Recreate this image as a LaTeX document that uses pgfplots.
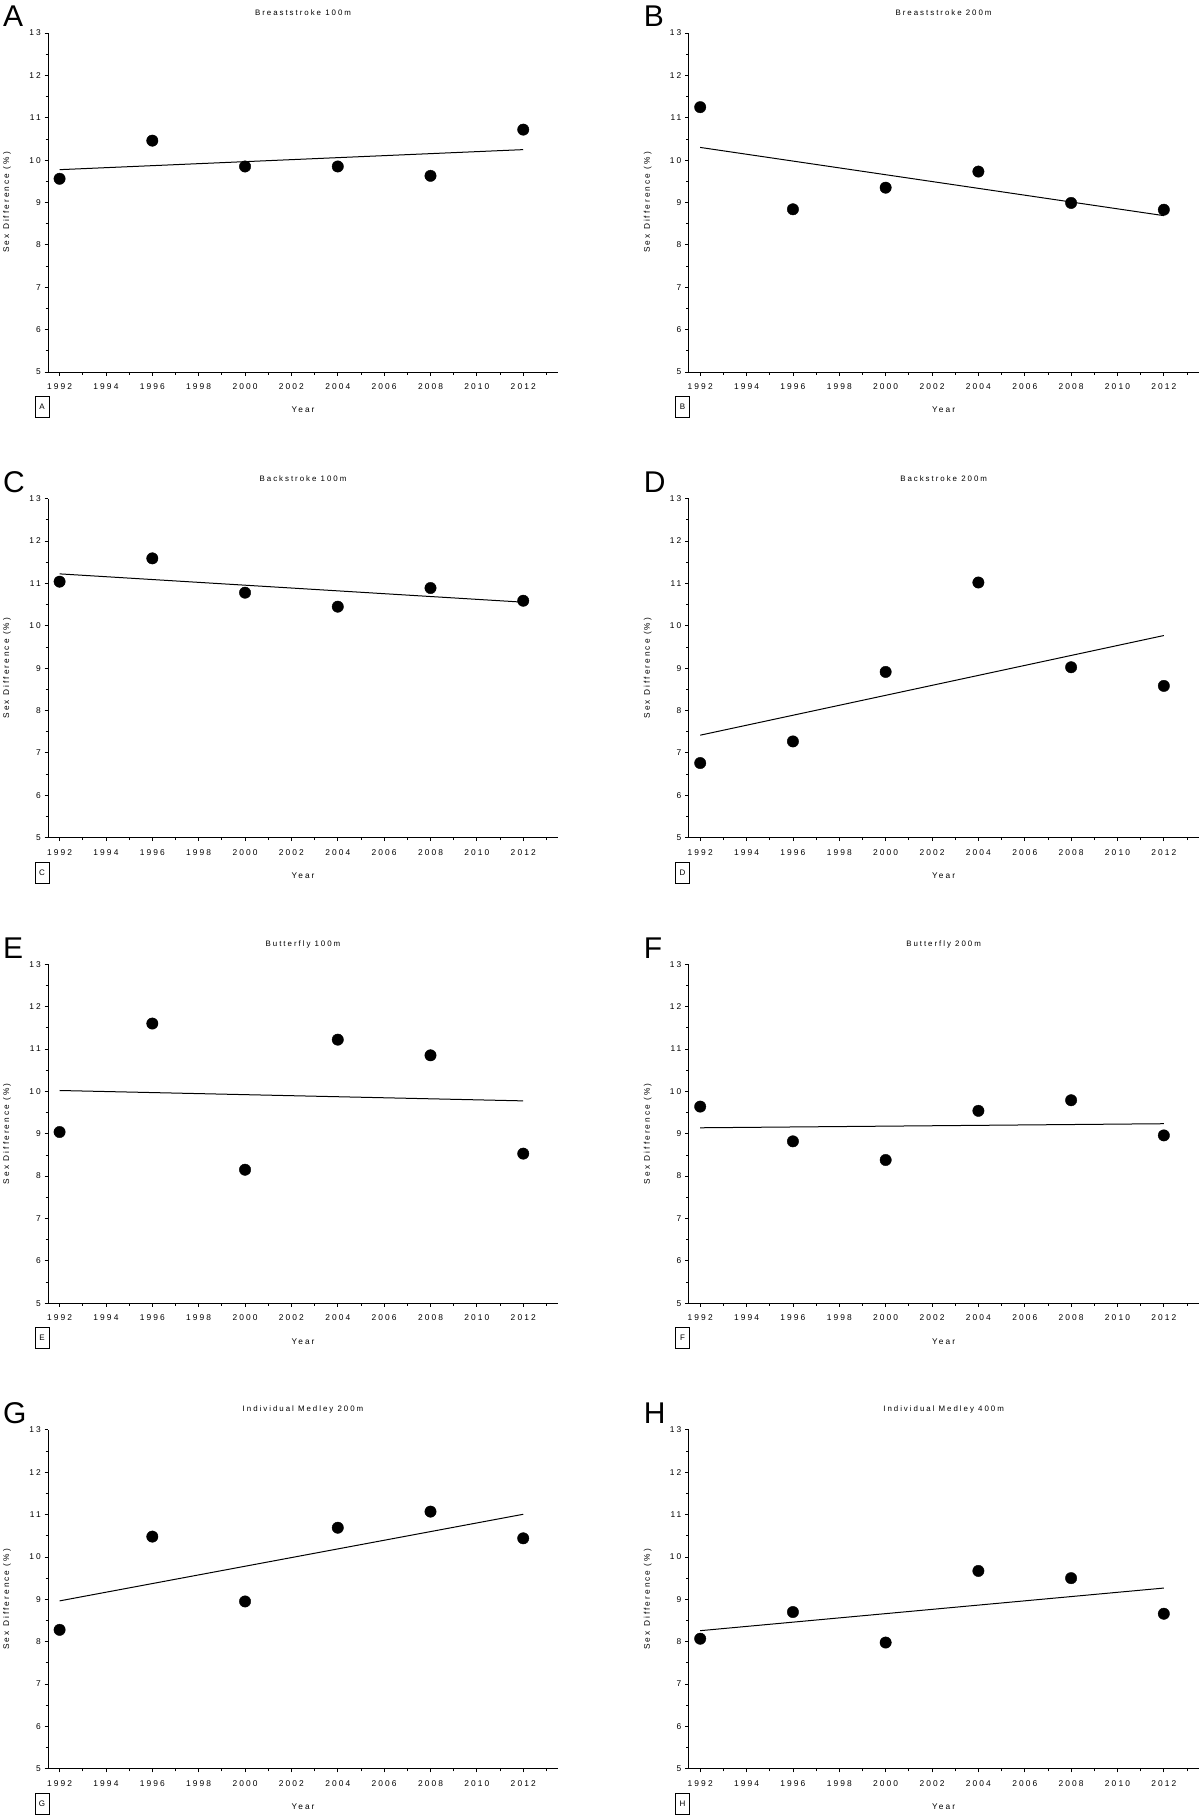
\documentclass[border=0pt]{standalone}
\usepackage{fontspec}
\setmainfont{Liberation Sans}[LetterSpace=25]
\newfontfamily\bigsf{Liberation Sans}
\usepackage{pgfplots}
\pgfplotsset{compat=1.18}

\pgfplotsset{common/.style={
  scale only axis, width=510pt, height=339pt, anchor=south west,
  xmin=1991.5, xmax=2013.5, ymin=5, ymax=13,
  axis x line=bottom, axis y line=left,
  axis line style={-, line width=1pt, black},
  xtick={1992,1994,...,2012}, minor xtick={1993,1995,...,2013},
  ytick={5,6,...,13}, minor ytick={5.5,6.5,...,12.5},
  tick align=outside, major tick length=3.5pt, minor tick length=2.5pt,
  every tick/.style={black, line width=0.8pt},
  /pgf/number format/assume math mode=true,
  /pgf/number format/1000 sep={},
  tick label style={font=\fontsize{8.4}{9}\selectfont, inner sep=0pt},
  xticklabel style={anchor=north, yshift=-8pt},
  yticklabel style={anchor=east, xshift=-3.5pt},
  clip=false,
}}

\newcommand{\panel}[6]{%
  \pgfmathsetmacro{\pnx}{48+640.6*#1}%
  \pgfmathsetmacro{\pny}{-(372+465.6*#2)}%
  \begin{axis}[common, at={(\pnx pt,\pny pt)}]
    \addplot[only marks, mark=*, mark size=5.7pt, black] coordinates {#5};
    \addplot[black, line width=1pt, mark=none] coordinates {#6};
  \end{axis}
  \node[anchor=center, font=\fontsize{7.9}{9}\selectfont] at (\pnx pt+255pt, \pny pt+359pt) {#4};
  \node[anchor=center, rotate=90, font=\fontsize{8.3}{9}\selectfont] at (\pnx pt-41pt, \pny pt+169.5pt) {Sex Difference (\%)};
  \node[anchor=center, font=\fontsize{8.3}{9}\selectfont] at (\pnx pt+255pt, \pny pt-38pt) {Year};
  \node[draw, line width=0.8pt, minimum width=14pt, minimum height=21pt, inner sep=0pt, font=\fontsize{8}{9}\selectfont] at (\pnx pt-6pt, \pny pt-35pt) {#3};
  \node[anchor=base west, font=\bigsf\fontsize{30}{32}\selectfont, inner sep=0pt] at (\pnx pt-45pt, \pny pt+345pt) {#3};
}

\begin{document}
\begin{tikzpicture}
\useasboundingbox (0,0) rectangle (1200pt,-1817pt);
\fill[white] (0,0) rectangle (1200pt,-1817pt);

\panel{0}{0}{A}{Breaststroke 100m}
 {(1992,9.56) (1996,10.46) (2000,9.85) (2004,9.85) (2008,9.63) (2012,10.72)}
 {(1992,9.775) (2012,10.248)}
\panel{1}{0}{B}{Breaststroke 200m}
 {(1992,11.25) (1996,8.84) (2000,9.35) (2004,9.73) (2008,8.99) (2012,8.83)}
 {(1992,10.30) (2012,8.69)}
\panel{0}{1}{C}{Backstroke 100m}
 {(1992,11.04) (1996,11.59) (2000,10.78) (2004,10.45) (2008,10.89) (2012,10.59)}
 {(1992,11.224) (2012,10.556)}
\panel{1}{1}{D}{Backstroke 200m}
 {(1992,6.76) (1996,7.27) (2000,8.91) (2004,11.02) (2008,9.02) (2012,8.58)}
 {(1992,7.417) (2012,9.769)}
\panel{0}{2}{E}{Butterfly 100m}
 {(1992,9.04) (1996,11.60) (2000,8.15) (2004,11.22) (2008,10.85) (2012,8.53)}
 {(1992,10.02) (2012,9.775)}
\panel{1}{2}{F}{Butterfly 200m}
 {(1992,9.64) (1996,8.82) (2000,8.38) (2004,9.54) (2008,9.79) (2012,8.96)}
 {(1992,9.140) (2012,9.236)}
\panel{0}{3}{G}{Individual Medley 200m}
 {(1992,8.28) (1996,10.48) (2000,8.95) (2004,10.69) (2008,11.07) (2012,10.44)}
 {(1992,8.963) (2012,11.007)}
\panel{1}{3}{H}{Individual Medley 400m}
 {(1992,8.07) (1996,8.70) (2000,7.98) (2004,9.67) (2008,9.50) (2012,8.66)}
 {(1992,8.260) (2012,9.266)}
\end{tikzpicture}
\end{document}
